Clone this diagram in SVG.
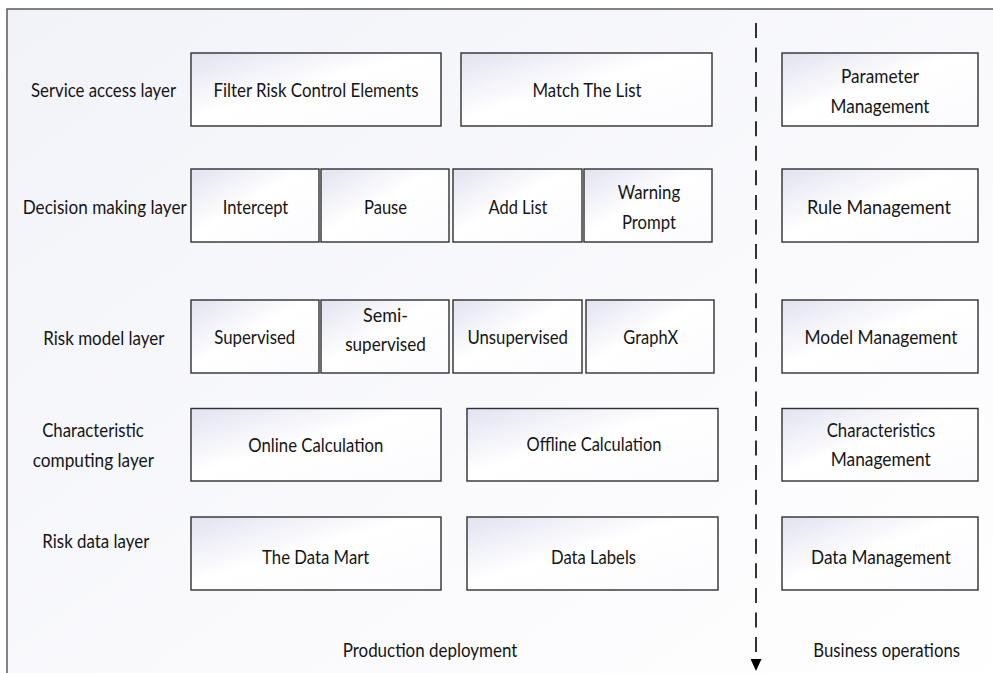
<svg xmlns="http://www.w3.org/2000/svg" width="993" height="673" viewBox="0 0 993 673">
  <defs>
    <linearGradient id="frameFill" x1="0" y1="0" x2="1" y2="1">
      <stop offset="0" stop-color="#f2f3f9"/>
      <stop offset="1" stop-color="#ffffff"/>
    </linearGradient>
    <linearGradient id="boxFill" x1="0" y1="0" x2="1" y2="1">
      <stop offset="0" stop-color="#e2e2f1"/>
      <stop offset="0.45" stop-color="#ffffff"/>
      <stop offset="1" stop-color="#fbfbfe"/>
    </linearGradient>
    <marker id="arrowDown" markerUnits="userSpaceOnUse" markerWidth="12" markerHeight="11" refX="0" refY="5.5" orient="auto" viewBox="0 0 12 11">
      <path d="M0,0 L12,5.5 L0,11 z" fill="#000"/>
    </marker>
  </defs>
  <style>
    .frame { fill: url(#frameFill); stroke: #5a5a5a; stroke-width: 1.5; }
    .box { fill: url(#boxFill); stroke: #303030; stroke-width: 1.4; }
    .t { font-family: Lato, "Liberation Sans", sans-serif; font-size: 20px; fill: #151515; text-anchor: middle; }
    .flow { stroke: #000; stroke-width: 1.6; fill: none; stroke-dasharray: 15 9.56; }
  </style>

  <!-- outer frame, open to the right and bottom -->
  <rect class="frame" x="7" y="9" width="1000" height="700"/>

  <!-- layer captions -->
  <g id="layer-labels">
    <text class="t" x="103.5" y="96.7" textLength="145" lengthAdjust="spacingAndGlyphs">Service access layer</text>
    <text class="t" x="104.7" y="213.5" textLength="164" lengthAdjust="spacingAndGlyphs">Decision making layer</text>
    <text class="t" x="103.8" y="345" textLength="121" lengthAdjust="spacingAndGlyphs">Risk model layer</text>
    <text class="t" x="93" y="437" textLength="101.7" lengthAdjust="spacingAndGlyphs">Characteristic</text>
    <text class="t" x="93.3" y="467" textLength="121.3" lengthAdjust="spacingAndGlyphs">computing layer</text>
    <text class="t" x="95.8" y="548.3" textLength="107" lengthAdjust="spacingAndGlyphs">Risk data layer</text>
    <text class="t" x="430" y="656.7" textLength="174.6" lengthAdjust="spacingAndGlyphs">Production deployment</text>
    <text class="t" x="886.7" y="656.7" textLength="146.7" lengthAdjust="spacingAndGlyphs">Business operations</text>
  </g>

  <!-- service access layer -->
  <g id="filter-risk">
    <rect class="box" x="191" y="53" width="250" height="73"/>
    <text class="t" x="316" y="96.7" textLength="205" lengthAdjust="spacingAndGlyphs">Filter Risk Control Elements</text>
  </g>
  <g id="match-list">
    <rect class="box" x="461" y="53" width="251" height="73"/>
    <text class="t" x="587" y="96.7" textLength="109" lengthAdjust="spacingAndGlyphs">Match The List</text>
  </g>
  <g id="parameter-mgmt">
    <rect class="box" x="782" y="53" width="196" height="73"/>
    <text class="t" x="880" y="83.3" textLength="78" lengthAdjust="spacingAndGlyphs">Parameter</text>
    <text class="t" x="880" y="112.7" textLength="99" lengthAdjust="spacingAndGlyphs">Management</text>
  </g>

  <!-- decision making layer -->
  <g id="intercept">
    <rect class="box" x="191" y="169" width="128" height="73"/>
    <text class="t" x="255.5" y="213.5" textLength="65.6" lengthAdjust="spacingAndGlyphs">Intercept</text>
  </g>
  <g id="pause">
    <rect class="box" x="321" y="169" width="128" height="73"/>
    <text class="t" x="385.5" y="213.5" textLength="43" lengthAdjust="spacingAndGlyphs">Pause</text>
  </g>
  <g id="add-list">
    <rect class="box" x="453" y="169" width="129" height="73"/>
    <text class="t" x="518" y="213.5" textLength="59" lengthAdjust="spacingAndGlyphs">Add List</text>
  </g>
  <g id="warning-prompt">
    <rect class="box" x="584" y="169" width="128" height="73"/>
    <text class="t" x="649" y="199.3" textLength="62.5" lengthAdjust="spacingAndGlyphs">Warning</text>
    <text class="t" x="649" y="228.7" textLength="54" lengthAdjust="spacingAndGlyphs">Prompt</text>
  </g>
  <g id="rule-mgmt">
    <rect class="box" x="782" y="169" width="196" height="73"/>
    <text class="t" x="879" y="213.5" textLength="144" lengthAdjust="spacingAndGlyphs">Rule Management</text>
  </g>

  <!-- risk model layer -->
  <g id="supervised">
    <rect class="box" x="191" y="300" width="128" height="73"/>
    <text class="t" x="254.7" y="344" textLength="81" lengthAdjust="spacingAndGlyphs">Supervised</text>
  </g>
  <g id="semi-supervised">
    <rect class="box" x="321" y="300" width="128" height="73"/>
    <text class="t" x="385.5" y="321.7" textLength="45" lengthAdjust="spacingAndGlyphs">Semi-</text>
    <text class="t" x="385.5" y="351" textLength="80.7" lengthAdjust="spacingAndGlyphs">supervised</text>
  </g>
  <g id="unsupervised">
    <rect class="box" x="453" y="300" width="129" height="73"/>
    <text class="t" x="517.7" y="344" textLength="100.5" lengthAdjust="spacingAndGlyphs">Unsupervised</text>
  </g>
  <g id="graphx">
    <rect class="box" x="586" y="300" width="128" height="73"/>
    <text class="t" x="650.7" y="344" textLength="54.7" lengthAdjust="spacingAndGlyphs">GraphX</text>
  </g>
  <g id="model-mgmt">
    <rect class="box" x="782" y="300" width="196" height="73"/>
    <text class="t" x="881" y="344" textLength="153" lengthAdjust="spacingAndGlyphs">Model Management</text>
  </g>

  <!-- characteristic computing layer -->
  <g id="online-calc">
    <rect class="box" x="191" y="408.5" width="250" height="72.5"/>
    <text class="t" x="315.8" y="452" textLength="135" lengthAdjust="spacingAndGlyphs">Online Calculation</text>
  </g>
  <g id="offline-calc">
    <rect class="box" x="467" y="408.5" width="251" height="72.5"/>
    <text class="t" x="594" y="451" textLength="135" lengthAdjust="spacingAndGlyphs">Offline Calculation</text>
  </g>
  <g id="characteristics-mgmt">
    <rect class="box" x="782" y="408.5" width="196" height="72.5"/>
    <text class="t" x="881" y="436.7" textLength="108.6" lengthAdjust="spacingAndGlyphs">Characteristics</text>
    <text class="t" x="880.7" y="466" textLength="100" lengthAdjust="spacingAndGlyphs">Management</text>
  </g>

  <!-- risk data layer -->
  <g id="data-mart">
    <rect class="box" x="191" y="517" width="250" height="73"/>
    <text class="t" x="315.7" y="564.3" textLength="107.3" lengthAdjust="spacingAndGlyphs">The Data Mart</text>
  </g>
  <g id="data-labels">
    <rect class="box" x="467" y="517" width="251" height="73"/>
    <text class="t" x="593.5" y="564.3" textLength="85" lengthAdjust="spacingAndGlyphs">Data Labels</text>
  </g>
  <g id="data-mgmt">
    <rect class="box" x="782" y="517" width="196" height="73"/>
    <text class="t" x="881" y="563.5" textLength="140" lengthAdjust="spacingAndGlyphs">Data Management</text>
  </g>

  <!-- dashed divider with downward arrow -->
  <g id="connectors">
    <line class="flow" x1="756" y1="23" x2="756" y2="659" marker-end="url(#arrowDown)"/>
  </g>
</svg>
